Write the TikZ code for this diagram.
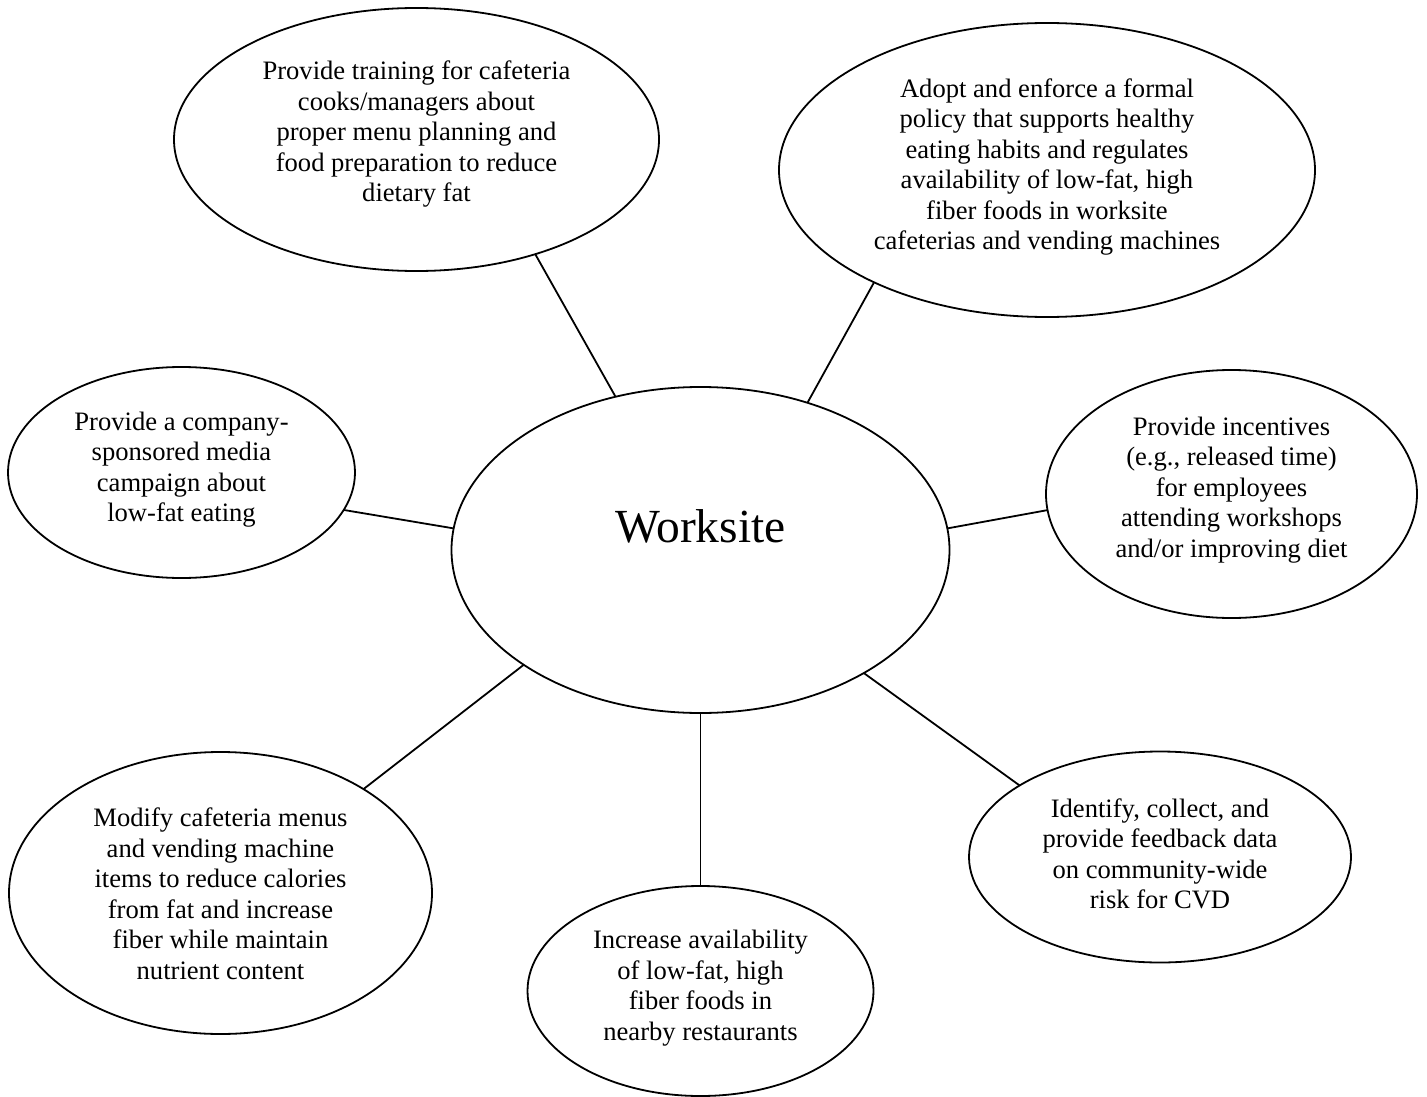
\documentclass[tikz,border=0pt]{standalone}
\usepackage{fontspec}
\setmainfont{Liberation Serif}
\usetikzlibrary{shapes.geometric}
\begin{document}
\begin{tikzpicture}[x=1pt,y=-1pt,
  bubble/.style={draw, ellipse, line width=1.8pt, inner sep=0pt, outer sep=0pt},
  note/.style={align=center, inner sep=0pt, font=\fontsize{26.6}{30.5}\selectfont},
  link/.style={line width=1.8pt}]
\useasboundingbox (0,0) rectangle (1427,1097);

% central hub
\node[bubble, minimum width=498pt, minimum height=326pt] (hub) at (700.5,550) {};
\node[font=\fontsize{47.5}{50}\selectfont, inner sep=0pt] (hubtext) at (700.5,526) {Worksite};

% surrounding strategies
\node[bubble, minimum width=485pt, minimum height=263pt] (e1) at (416.5,139.5) {};
\node[note] (t1) at (416.5,134.5) {Provide training for cafeteria\\cooks/managers about\\proper menu planning and\\food preparation to reduce\\dietary fat};

\node[bubble, minimum width=536pt, minimum height=294pt] (e2) at (1047,170) {};
\node[note] (t2) at (1047,167) {Adopt and enforce a formal\\policy that supports healthy\\eating habits and regulates\\availability of low-fat, high\\fiber foods in worksite\\cafeterias and vending machines};

\node[bubble, minimum width=347pt, minimum height=211pt] (e3) at (181.5,472.5) {};
\node[note] (t3) at (181.5,469.5) {Provide a company-\\sponsored media\\campaign about\\low-fat eating};

\node[bubble, minimum width=371pt, minimum height=248pt] (e5) at (1231.5,494) {};
\node[note] (t5) at (1231.5,490) {Provide incentives\\(e.g., released time)\\for employees\\attending workshops\\and/or improving diet};

\node[bubble, minimum width=423pt, minimum height=282pt] (e6) at (220.5,893) {};
\node[note] (t6) at (220.5,894) {Modify cafeteria menus\\and vending machine\\items to reduce calories\\from fat and increase\\fiber while maintain\\nutrient content};

\node[bubble, minimum width=346pt, minimum height=210pt] (e7) at (700.5,991) {};
\node[note] (t7) at (700.5,988) {Increase availability\\of low-fat, high\\fiber foods in\\nearby restaurants};

\node[bubble, minimum width=382pt, minimum height=211pt] (e8) at (1160,857) {};
\node[note] (t8) at (1160,854) {Identify, collect, and\\provide feedback data\\on community-wide\\risk for CVD};

% spokes
\draw[link] (e1.-44.8) -- (hub.119.4);
\draw[link] (e2.213) -- (hub.54);
\draw[link] (e3.-13.3) -- (hub.175.4);
\draw[link] (e5.185.6) -- (hub.5.3);
\draw[link] (e6.36.3) -- (hub.213.7);
\draw[link] (hub.south) -- (e7.north);
\draw[link] (hub.-37.8) -- (e8.153.9);
\end{tikzpicture}
\end{document}
